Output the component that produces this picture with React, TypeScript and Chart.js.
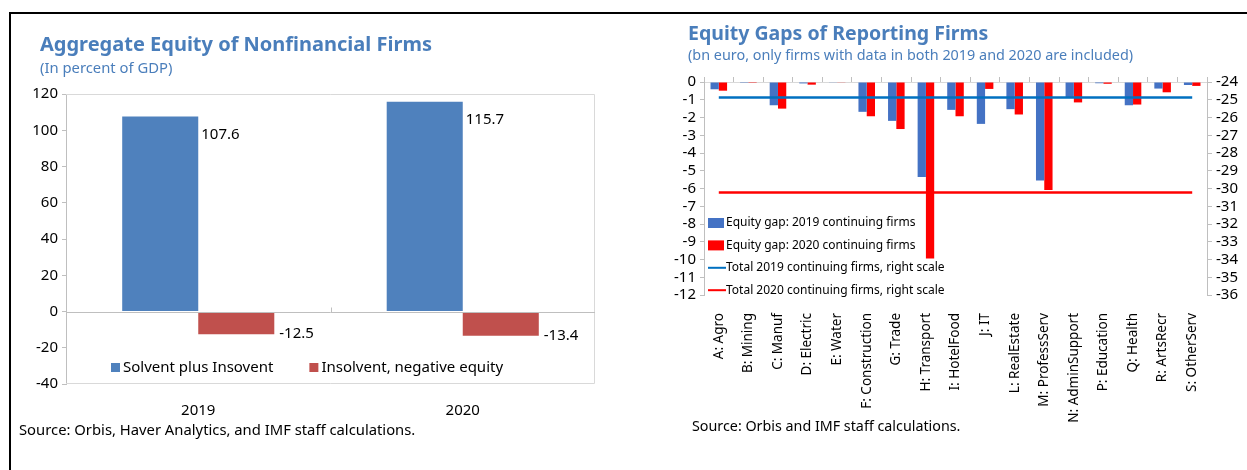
import React, { useEffect, useRef } from "react";
import { Chart, registerables } from "chart.js";
Chart.register(...registerables);

// ---------- Left chart data ----------
const leftYears = ["2019", "2020"];
const solventValues = [107.6, 115.7];
const insolventValues = [-12.5, -13.4];
const leftLegend = ["Solvent plus Insovent", "Insolvent, negative equity"];

// ---------- Right chart data ----------
const sectors = [
  "A: Agro", "B: Mining", "C: Manuf", "D: Electric", "E: Water", "F: Construction",
  "G: Trade", "H: Transport", "I: HotelFood", "J: IT", "L: RealEstate", "M: ProfessServ",
  "N: AdminSupport", "P: Education", "Q: Health", "R: ArtsRecr", "S: OtherServ",
];
const gap2019 = [-0.41, -0.05, -1.31, -0.08, -0.02, -1.68, -2.19, -5.35, -1.57, -2.36, -1.53, -5.55, -0.87, -0.07, -1.31, -0.37, -0.17];
const gap2020 = [-0.49, -0.05, -1.5, -0.15, -0.02, -1.93, -2.65, -9.95, -1.93, -0.39, -1.83, -6.08, -1.15, -0.1, -1.27, -0.58, -0.22];
const total2019 = -24.88;
const total2020 = -30.23;
const rightLegend = [
  "Equity gap: 2019 continuing firms",
  "Equity gap: 2020 continuing firms",
  "Total 2019 continuing firms, right scale",
  "Total 2020 continuing firms, right scale",
];

const FONT = "'Noto Sans', 'Open Sans', sans-serif";
const TITLE_BLUE = "#4a7ebb";
const AXIS_GRAY = "#bfbfbf";
const BOX_GRAY = "#d9d9d9";

const LEFT_BLUE = "#4f81bd";
const LEFT_RED = "#c0504d";
const RIGHT_BLUE = "#4472c4";
const RIGHT_RED = "#ff0000";
const LINE_BLUE = "#0070c0";

function fixAxis(size: number, dim: "width" | "height") {
  return (s: any) => {
    s[dim] = size;
    s.paddingTop = 0;
    s.paddingBottom = 0;
    s.paddingLeft = 0;
    s.paddingRight = 0;
  };
}

function LeftChart() {
  const ref = useRef<HTMLCanvasElement>(null);
  useEffect(() => {
    const decor = {
      id: "leftDecor",
      afterDraw(chart: any) {
        const { ctx, chartArea: a } = chart;
        const xs = chart.scales.x;
        const ys = chart.scales.y;
        ctx.save();
        // plot box
        ctx.strokeStyle = BOX_GRAY;
        ctx.lineWidth = 1;
        ctx.beginPath();
        ctx.moveTo(a.left, a.top + 0.5);
        ctx.lineTo(a.right - 0.5, a.top + 0.5);
        ctx.lineTo(a.right - 0.5, a.bottom - 0.5);
        ctx.lineTo(a.left, a.bottom - 0.5);
        ctx.stroke();
        // zero line
        const zy = Math.round(ys.getPixelForValue(0)) + 0.5;
        ctx.strokeStyle = AXIS_GRAY;
        ctx.beginPath();
        ctx.moveTo(a.left, zy);
        ctx.lineTo(a.right, zy);
        const mid = Math.round((xs.getPixelForValue(0) + xs.getPixelForValue(1)) / 2) + 0.5;
        ctx.moveTo(mid, zy);
        ctx.lineTo(mid, zy - 5);
        ctx.stroke();
        // data labels
        ctx.fillStyle = "#000";
        ctx.font = `15px ${FONT}`;
        ctx.textAlign = "left";
        ctx.textBaseline = "middle";
        chart.getDatasetMeta(0).data.forEach((bar: any, i: number) => {
          ctx.fillText(solventValues[i].toFixed(1), bar.x + bar.width / 2 + 3, bar.y + 18);
        });
        chart.getDatasetMeta(1).data.forEach((bar: any, i: number) => {
          ctx.fillText(insolventValues[i].toFixed(1), bar.x + bar.width / 2 + 5, bar.y);
        });
        // legend
        const ly = a.bottom - 17;
        let lx = a.left + 45;
        const colors = [LEFT_BLUE, LEFT_RED];
        leftLegend.forEach((t, i) => {
          ctx.fillStyle = colors[i];
          ctx.fillRect(lx, ly - 4, 9, 9);
          ctx.fillStyle = "#000";
          ctx.fillText(t, lx + 12, ly + 1);
          lx += 12 + ctx.measureText(t).width + 36;
        });
        ctx.restore();
      },
    };
    const chart = new Chart(ref.current!, {
      type: "bar",
      data: {
        labels: leftYears,
        datasets: [
          { label: leftLegend[0], data: solventValues, backgroundColor: LEFT_BLUE, categoryPercentage: 0.575, barPercentage: 1 },
          { label: leftLegend[1], data: insolventValues, backgroundColor: LEFT_RED, categoryPercentage: 0.575, barPercentage: 1 },
        ],
      },
      options: {
        animation: false,
        responsive: false,
        layout: { padding: { top: 94, right: 45, left: 0, bottom: 0 } },
        plugins: { legend: { display: false }, tooltip: { enabled: false } },
        scales: {
          x: {
            position: "bottom",
            grid: { display: false },
            border: { display: false },
            ticks: { color: "#000", font: { family: FONT, size: 15 }, padding: 10 },
            afterFit: fixAxis(470 - 384, "height"),
          },
          y: {
            min: -40,
            max: 120,
            ticks: { stepSize: 20, autoSkip: false, color: "#000", font: { family: FONT, size: 15 }, padding: 4 },
            grid: { drawOnChartArea: false, tickLength: 4, color: AXIS_GRAY },
            border: { color: AXIS_GRAY },
            afterFit: fixAxis(66, "width"),
          },
        },
      },
      plugins: [decor],
    } as any);
    return () => chart.destroy();
  }, []);
  return <canvas ref={ref} width={640} height={470} style={{ position: "absolute", left: 0, top: 0 }} />;
}

function RightChart() {
  const ref = useRef<HTMLCanvasElement>(null);
  useEffect(() => {
    const legendPlugin = {
      id: "rightLegend",
      afterDraw(chart: any) {
        const { ctx, chartArea: a } = chart;
        ctx.save();
        ctx.font = `12px ${FONT}`;
        ctx.textAlign = "left";
        ctx.textBaseline = "middle";
        const x0 = a.left + 4;
        const kinds = ["bar", "bar", "line", "line"];
        const colors = [RIGHT_BLUE, RIGHT_RED, LINE_BLUE, RIGHT_RED];
        rightLegend.forEach((t, i) => {
          const y = a.top + 141 + i * 22.4;
          ctx.fillStyle = colors[i];
          if (kinds[i] === "bar") ctx.fillRect(x0, y - 5, 16, 10);
          else ctx.fillRect(x0, y - 1, 18, 2);
          ctx.fillStyle = "#000";
          ctx.fillText(t, x0 + 18, y);
        });
        ctx.restore();
      },
    };
    const chart = new Chart(ref.current!, {
      type: "bar",
      data: {
        labels: sectors,
        datasets: [
          {
            type: "line",
            label: rightLegend[2],
            data: [{ x: sectors[0], y: total2019 }, { x: sectors[sectors.length - 1], y: total2019 }],
            borderColor: LINE_BLUE,
            borderWidth: 2.5,
            pointRadius: 0,
            yAxisID: "y2",
            order: 0,
          },
          {
            type: "line",
            label: rightLegend[3],
            data: [{ x: sectors[0], y: total2020 }, { x: sectors[sectors.length - 1], y: total2020 }],
            borderColor: RIGHT_RED,
            borderWidth: 2.5,
            pointRadius: 0,
            yAxisID: "y2",
            order: 0,
          },
          { label: rightLegend[0], data: gap2019, backgroundColor: RIGHT_BLUE, categoryPercentage: 0.56, barPercentage: 1, yAxisID: "y", order: 1 },
          { label: rightLegend[1], data: gap2020, backgroundColor: RIGHT_RED, categoryPercentage: 0.56, barPercentage: 1, yAxisID: "y", order: 1 },
        ],
      },
      options: {
        animation: false,
        responsive: false,
        layout: { padding: { top: 77, right: 0, left: 0, bottom: 0 } },
        plugins: { legend: { display: false }, tooltip: { enabled: false } },
        scales: {
          x: {
            position: "bottom",
            grid: { display: false },
            border: { display: false },
            ticks: {
              color: "#000",
              font: { family: FONT, size: 13.5 },
              minRotation: 90,
              maxRotation: 90,
              autoSkip: false,
              padding: 10,
            },
            afterFit: fixAxis(470 - 295, "height"),
          },
          xTop: {
            type: "category",
            labels: sectors,
            position: "top",
            offset: true,
            ticks: { display: false },
            grid: { offset: true, drawOnChartArea: false, tickLength: 5, color: AXIS_GRAY },
            border: { display: true, color: BOX_GRAY },
            afterFit: fixAxis(5, "height"),
          },
          y: {
            position: "left",
            min: -12,
            max: 0,
            ticks: { stepSize: 1, autoSkip: false, color: "#000", font: { family: FONT, size: 15 }, padding: 4 },
            grid: { drawOnChartArea: false, tickLength: 4, color: AXIS_GRAY },
            border: { color: AXIS_GRAY },
            afterFit: fixAxis(64, "width"),
          },
          y2: {
            position: "right",
            min: -36,
            max: -24,
            ticks: { stepSize: 1, autoSkip: false, color: "#000", font: { family: FONT, size: 15 }, padding: 4 },
            grid: { drawOnChartArea: false, tickLength: 5, color: AXIS_GRAY },
            border: { color: AXIS_GRAY },
            afterFit: fixAxis(40, "width"),
          },
        },
      },
      plugins: [legendPlugin],
    } as any);
    return () => chart.destroy();
  }, []);
  return <canvas ref={ref} width={607} height={470} style={{ position: "absolute", left: 640, top: 0 }} />;
}

const textBase: React.CSSProperties = { position: "absolute", fontFamily: FONT, whiteSpace: "nowrap", margin: 0, lineHeight: 1 };

export default function App() {
  useEffect(() => {
    document.body.style.margin = "0";
  }, []);
  return (
    <div style={{ position: "relative", width: 1247, height: 470, background: "#fff", overflow: "hidden" }}>
      <LeftChart />
      <RightChart />
      <div style={{ position: "absolute", left: 9, top: 12, width: 1238, height: 2, background: "#000" }} />
      <div style={{ position: "absolute", left: 9, top: 12, width: 2, height: 458, background: "#000" }} />
      <div style={{ ...textBase, left: 40, top: 34, fontSize: 20, fontWeight: 700, color: TITLE_BLUE }}>
        Aggregate Equity of Nonfinancial Firms
      </div>
      <div style={{ ...textBase, left: 40, top: 60, fontSize: 14.8, color: TITLE_BLUE }}>(In percent of GDP)</div>
      <div style={{ ...textBase, left: 19, top: 422, fontSize: 14.8, color: "#000" }}>
        Source: Orbis, Haver Analytics, and IMF staff calculations.
      </div>
      <div style={{ ...textBase, left: 688, top: 23, fontSize: 19.5, fontWeight: 700, color: TITLE_BLUE }}>
        Equity Gaps of Reporting Firms
      </div>
      <div style={{ ...textBase, left: 688, top: 48, fontSize: 14.4, color: TITLE_BLUE }}>
        (bn euro, only firms with data in both 2019 and 2020 are included)
      </div>
      <div style={{ ...textBase, left: 692, top: 419, fontSize: 14.3, color: "#000" }}>
        Source: Orbis and IMF staff calculations.
      </div>
    </div>
  );
}
